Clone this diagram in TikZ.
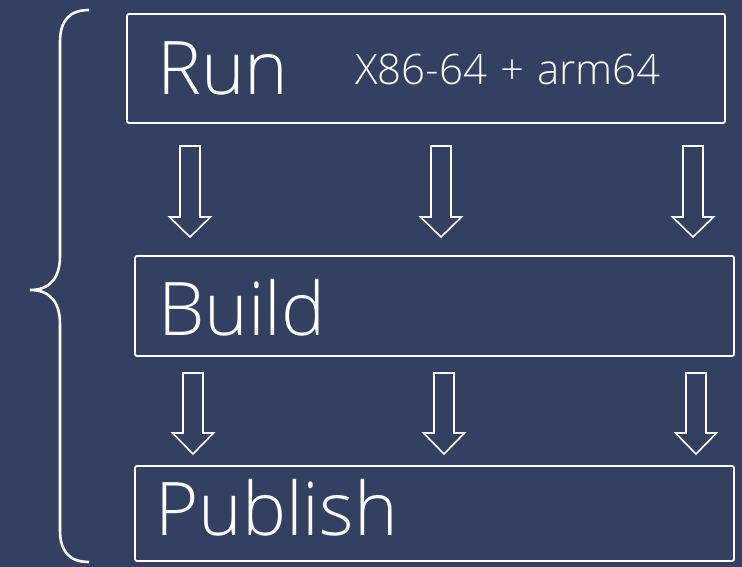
\documentclass[tikz,border=0pt]{standalone}
\usepackage{fontspec}
\setmainfont{Open Sans}[UprightFont=* Light]
\definecolor{bgblue}{RGB}{52,64,98}
\begin{document}
\begin{tikzpicture}[x=1pt,y=-1pt,
  box/.style={draw=white,line width=1.8pt,rounded corners=2pt,inner sep=0pt},
  bigtxt/.style={text=white,anchor=base west,inner sep=0pt,font=\fontsize{74}{80}\selectfont},
  smalltxt/.style={text=white,anchor=base west,inner sep=0pt,font=\fontsize{42}{46}\selectfont},
  arrowline/.style={draw=white,line width=1.6pt,line join=miter},
  bracestyle/.style={draw=white,line width=2.6pt}]
\fill[bgblue] (0,0) rectangle (742,567);
\useasboundingbox (0,0) rectangle (742,567);
% boxes
\node[box,minimum width=598pt,minimum height=109pt] (run) at (426,68.5) {};
\node[box,minimum width=599pt,minimum height=100pt] (build) at (434.5,306) {};
\node[box,minimum width=599pt,minimum height=95pt] (publish) at (434.5,513.5) {};
% texts
\node[bigtxt] (runtxt) at (157,95) {Run};
\node[smalltxt] (archtxt) at (355,85) {X86-64 \kern2pt+\kern2pt{} arm64};
\node[bigtxt] (buildtxt) at (158,335) {Build};
\node[bigtxt] (pubtxt) at (155,535) {Publish};
% block arrows
\foreach \x/\t/\b/\tip in {190/146/217/237, 441/146/217/237, 693/146/217/237,
                             193/373/433/454, 444/373/433/454, 696/373/433/454}{
  \draw[arrowline] (\x-10,\t) -- (\x+10,\t) -- (\x+10,\b) -- (\x+20.5,\b) -- (\x,\tip)
     -- (\x-20.5,\b) -- (\x-10,\b) -- cycle;
}
% brace
\coordinate (btop) at (89,10);
\coordinate (btip) at (30,290);
\coordinate (bbot) at (89,562);
\draw[bracestyle] (btop) .. controls (70,10) and (60,20) .. (60,42)
  -- (60,256) .. controls (60,278) and (50,290) .. (btip)
  .. controls (50,290) and (60,302) .. (60,324)
  -- (60,530) .. controls (60,552) and (70,562) .. (bbot);
\end{tikzpicture}
\end{document}
